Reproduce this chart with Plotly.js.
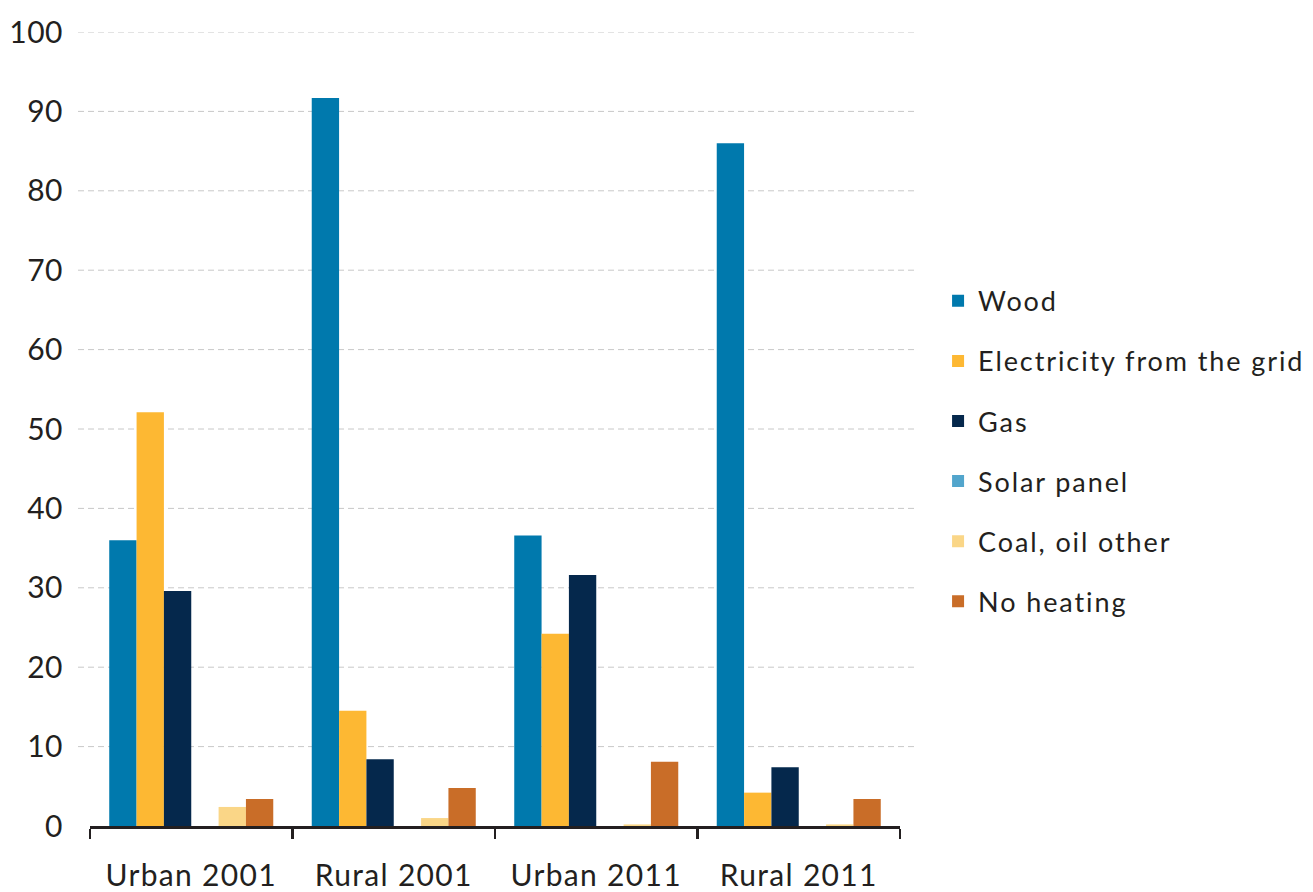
<!DOCTYPE html>
<html>
<head>
<meta charset="utf-8">
<script src="https://cdn.plot.ly/plotly-3.0.1.min.js"></script>
<style>
html,body{margin:0;padding:0;background:#fff;}
#chart{width:1313px;height:892px;}
.xtick text{letter-spacing:1.3px;}
.legendtext{letter-spacing:1.9px;}
.ytick text{letter-spacing:0.5px;}
</style>
</head>
<body>
<div id="chart"></div>
<script>
const categories = ["Urban 2001", "Rural 2001", "Urban 2011", "Rural 2011"];
const seriesNames = ["Wood", "Electricity from the grid", "Gas", "Solar panel", "Coal, oil other", "No heating"];
const wood = [36.0, 91.7, 36.6, 86.0];
const electricity = [52.1, 14.5, 24.2, 4.2];
const gas = [29.6, 8.4, 31.6, 7.4];
const solar = [0, 0, 0, 0];
const coal = [2.4, 1.0, 0.2, 0.2];
const noHeating = [3.4, 4.8, 8.1, 3.4];
const yTicks = [0, 10, 20, 30, 40, 50, 60, 70, 80, 90, 100];

const colors = ["#0079AD", "#FDB833", "#05284C", "#52A5CC", "#FAD687", "#C96D28"];
const values = [wood, electricity, gas, solar, coal, noHeating];

const FONT = "Lato, 'Open Sans', sans-serif";
const traces = values.map((v, i) => ({
  type: "bar",
  name: seriesNames[i],
  x: categories,
  y: v,
  marker: {color: colors[i], line: {width: 0}},
  legendgroup: "g" + i,
  hoverinfo: "x+y+name"
}));

const L = 90, R = 900;
const pw = R - L;
const gridShapes = yTicks.filter(t => t > 0).map(t => ({
  type: "line", xref: "paper", yref: "y",
  x0: (78 - L) / pw, x1: (915 - L) / pw, y0: t, y1: t,
  line: {color: "#c8c8c8", width: 1, dash: "6px,4px"},
  layer: "below"
}));

const layout = {
  width: 1313, height: 892,
  margin: {l: L, r: 1313 - R, t: 32, b: 66, pad: 0, autoexpand: false},
  paper_bgcolor: "#fff", plot_bgcolor: "rgba(0,0,0,0)",
  barmode: "group",
  bargap: 0.19,
  bargroupgap: 0,
  font: {family: FONT, color: "#231f20", size: 30},
  showlegend: true,
  legend: {
    x: 1.047, xanchor: "left", y: 0.472, yanchor: "middle",
    font: {family: FONT, size: 27, color: "#231f20"},
    tracegroupgap: 22,
    traceorder: "grouped",
    bgcolor: "rgba(0,0,0,0)"
  },
  xaxis: {
    type: "category",
    showgrid: false,
    showline: true, linecolor: "#231f20", linewidth: 2.5,
    ticks: "outside", tickson: "boundaries", ticklen: 10, tickwidth: 2.5, tickcolor: "#231f20",
    ticklabelstandoff: 21,
    tickfont: {family: FONT, size: 30, color: "#231f20"},
    zeroline: false,
    automargin: false,
    fixedrange: true
  },
  yaxis: {
    range: [0, 100],
    tickvals: yTicks,
    ticktext: yTicks.map(String),
    showgrid: false, zeroline: false, showline: false,
    ticks: "", ticklabelstandoff: 26,
    tickfont: {family: FONT, size: 30, color: "#231f20"},
    automargin: false,
    fixedrange: true
  },
  shapes: gridShapes
};

Plotly.newPlot("chart", traces, layout, {displayModeBar: false, staticPlot: true});
</script>
</body>
</html>
